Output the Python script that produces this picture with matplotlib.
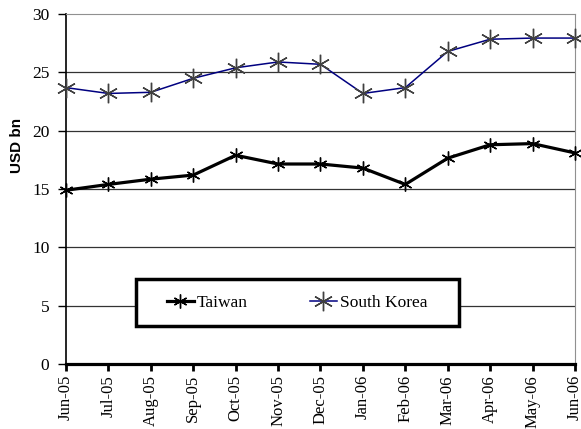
import matplotlib
matplotlib.use("Agg")
import matplotlib.pyplot as plt
from matplotlib.patches import Rectangle

months = ["Jun-05", "Jul-05", "Aug-05", "Sep-05", "Oct-05", "Nov-05", "Dec-05",
          "Jan-06", "Feb-06", "Mar-06", "Apr-06", "May-06", "Jun-06"]
taiwan = [14.9, 15.4, 15.85, 16.2, 17.9, 17.15, 17.15, 16.8, 15.4, 17.65, 18.8, 18.9, 18.1]
south_korea = [23.7, 23.2, 23.3, 24.5, 25.4, 25.9, 25.7, 23.2, 23.7, 26.8, 27.85, 27.95, 27.95]

plt.rcParams["font.family"] = "Liberation Serif"

fig = plt.figure(figsize=(5.81, 4.29), dpi=100)
ax = fig.add_axes([0.1136, 0.1515, 0.876, 0.8155])

x = list(range(len(months)))
star = (6, 2, 0)

ax.plot(x, taiwan, color="black", linewidth=2.3, marker=star, markersize=10,
        markeredgewidth=1.0, markeredgecolor="black", label="Taiwan", zorder=5,
        clip_on=False)
ax.plot(x, south_korea, color="#000080", linewidth=1.1, marker=star, markersize=14,
        markeredgewidth=1.0, markeredgecolor="#404040", label="South Korea", zorder=5,
        clip_on=False)

ax.set_xlim(0, len(months) - 1)
ax.set_ylim(0, 30)
ax.set_yticks([0, 5, 10, 15, 20, 25, 30])
ax.set_xticks(x)
ax.set_xticklabels(months, rotation=90, fontsize=12)
ax.tick_params(axis="y", labelsize=12.5, direction="out", length=6, width=1, pad=6)
ax.tick_params(axis="x", direction="out", length=5, width=2, pad=3)

for yv in [5, 10, 15, 20, 25]:
    ax.axhline(yv, color="#333333", linewidth=0.9, zorder=1)

ax.spines["top"].set_color("#909090")
ax.spines["right"].set_color("#909090")
ax.spines["bottom"].set_linewidth(2.3)
ax.spines["left"].set_linewidth(1.2)

ax.set_ylabel("USD bn", family="Liberation Sans", fontweight="bold", fontsize=11)
ax.yaxis.set_label_coords(-0.082, 0.626)

# legend box drawn by hand, legend itself sits inside it
box = Rectangle((0.1375, 0.1086), 0.6345, 0.1344, transform=ax.transAxes,
                facecolor="white", edgecolor="black", linewidth=2.5, zorder=8)
ax.add_patch(box)
leg = ax.legend(ncol=2, loc="center", bbox_to_anchor=(0.4548, 0.1758),
                frameon=False, fontsize=12.5, handlelength=1.5,
                handletextpad=0.2, columnspacing=3.6, borderaxespad=0)
leg.set_zorder(10)

fig.savefig("out.png", dpi=100)
